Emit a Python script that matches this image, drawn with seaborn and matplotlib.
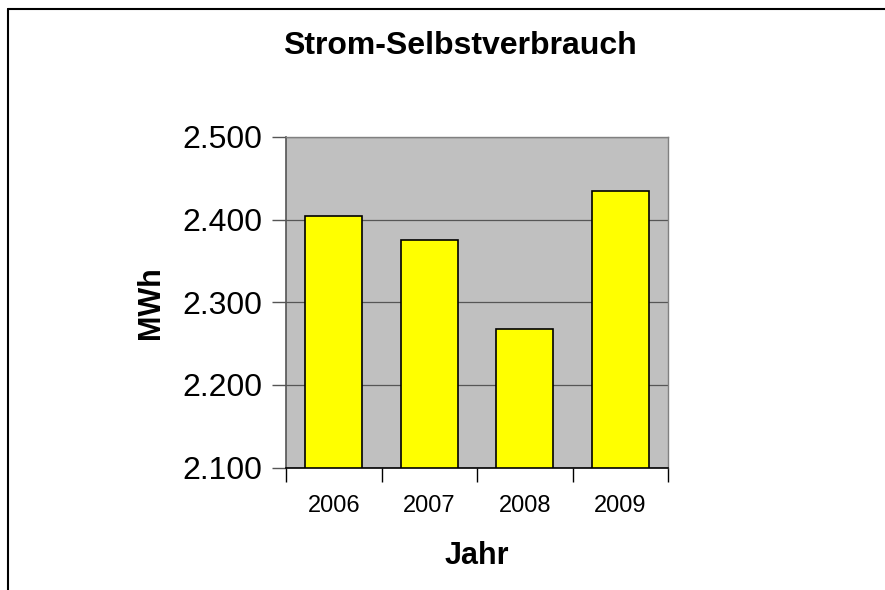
import matplotlib
matplotlib.use("Agg")
import matplotlib.pyplot as plt
import seaborn as sns
import pandas as pd
from matplotlib.lines import Line2D
from matplotlib.ticker import FuncFormatter, FixedLocator

years = ["2006", "2007", "2008", "2009"]
values = [2404, 2375, 2268, 2435]
yticks = [2100, 2200, 2300, 2400, 2500]

sns.set_theme(style="white")
plt.rcParams['font.family'] = ['Liberation Sans', 'DejaVu Sans']
plt.rcParams['text.color'] = 'black'
plt.rcParams['axes.labelcolor'] = 'black'
plt.rcParams['xtick.color'] = 'black'
plt.rcParams['ytick.color'] = 'black'

df = pd.DataFrame({"Jahr": years, "MWh": values})

fig = plt.figure(figsize=(8.85, 5.9), dpi=100)
W, H = 885, 590
l, r, t, b = 286, 668, 137, 467.5
ax = fig.add_axes([l / W, 1 - b / H, (r - l) / W, (b - t) / H])
ax.set_facecolor("#c0c0c0")

sns.barplot(data=df, x="Jahr", y="MWh", ax=ax, color="#ffff00",
            edgecolor="black", linewidth=1.2, width=0.6, saturation=1)

ax.set_ylim(2100, 2500)
ax.set_xlim(-0.5, 3.5)
ax.yaxis.set_major_locator(FixedLocator(yticks))
ax.yaxis.set_major_formatter(FuncFormatter(lambda v, p: f"{int(v):,}".replace(",", ".")))
ax.grid(axis="y", color="black", linewidth=0.9, alpha=0.55)
ax.set_axisbelow(True)

for s in ["top", "right"]:
    ax.spines[s].set_color("#808080")
    ax.spines[s].set_linewidth(1.0)
ax.spines["left"].set_color("#555555")
ax.spines["left"].set_linewidth(1.2)
ax.spines["bottom"].set_color("black")
ax.spines["bottom"].set_linewidth(1.2)

ax.tick_params(axis="y", which="major", direction="out", length=10, width=1.0,
               color="#555555", labelsize=23, labelcolor="black", pad=7, left=True)
ax.tick_params(axis="x", which="major", bottom=False, labelsize=17,
               labelcolor="black", pad=14)
ax.set_xticks(range(len(years)))
ax.set_xticklabels(years)
ax.set_xticks([-0.5, 0.5, 1.5, 2.5, 3.5], minor=True)
ax.tick_params(axis="x", which="minor", bottom=True, direction="out",
               length=10, width=1.0, color="black")

ax.set_xlabel("Jahr", fontsize=22, fontweight="bold", labelpad=17, color="black")
ax.set_ylabel("MWh", fontsize=22, fontweight="bold", labelpad=12, color="black")
fig.suptitle("Strom-Selbstverbrauch", x=460 / W, y=1 - 31 / H,
             fontsize=23, fontweight="bold", va="top", color="black")

# outer frame (top and left visible)
fig.add_artist(Line2D([7.5 / W, 1.0], [1 - 8.5 / H, 1 - 8.5 / H],
                      transform=fig.transFigure, color="black", linewidth=1.5))
fig.add_artist(Line2D([7.5 / W, 7.5 / W], [0, 1 - 8.5 / H],
                      transform=fig.transFigure, color="black", linewidth=1.5))

fig.savefig("out.png", dpi=100, facecolor="white")
